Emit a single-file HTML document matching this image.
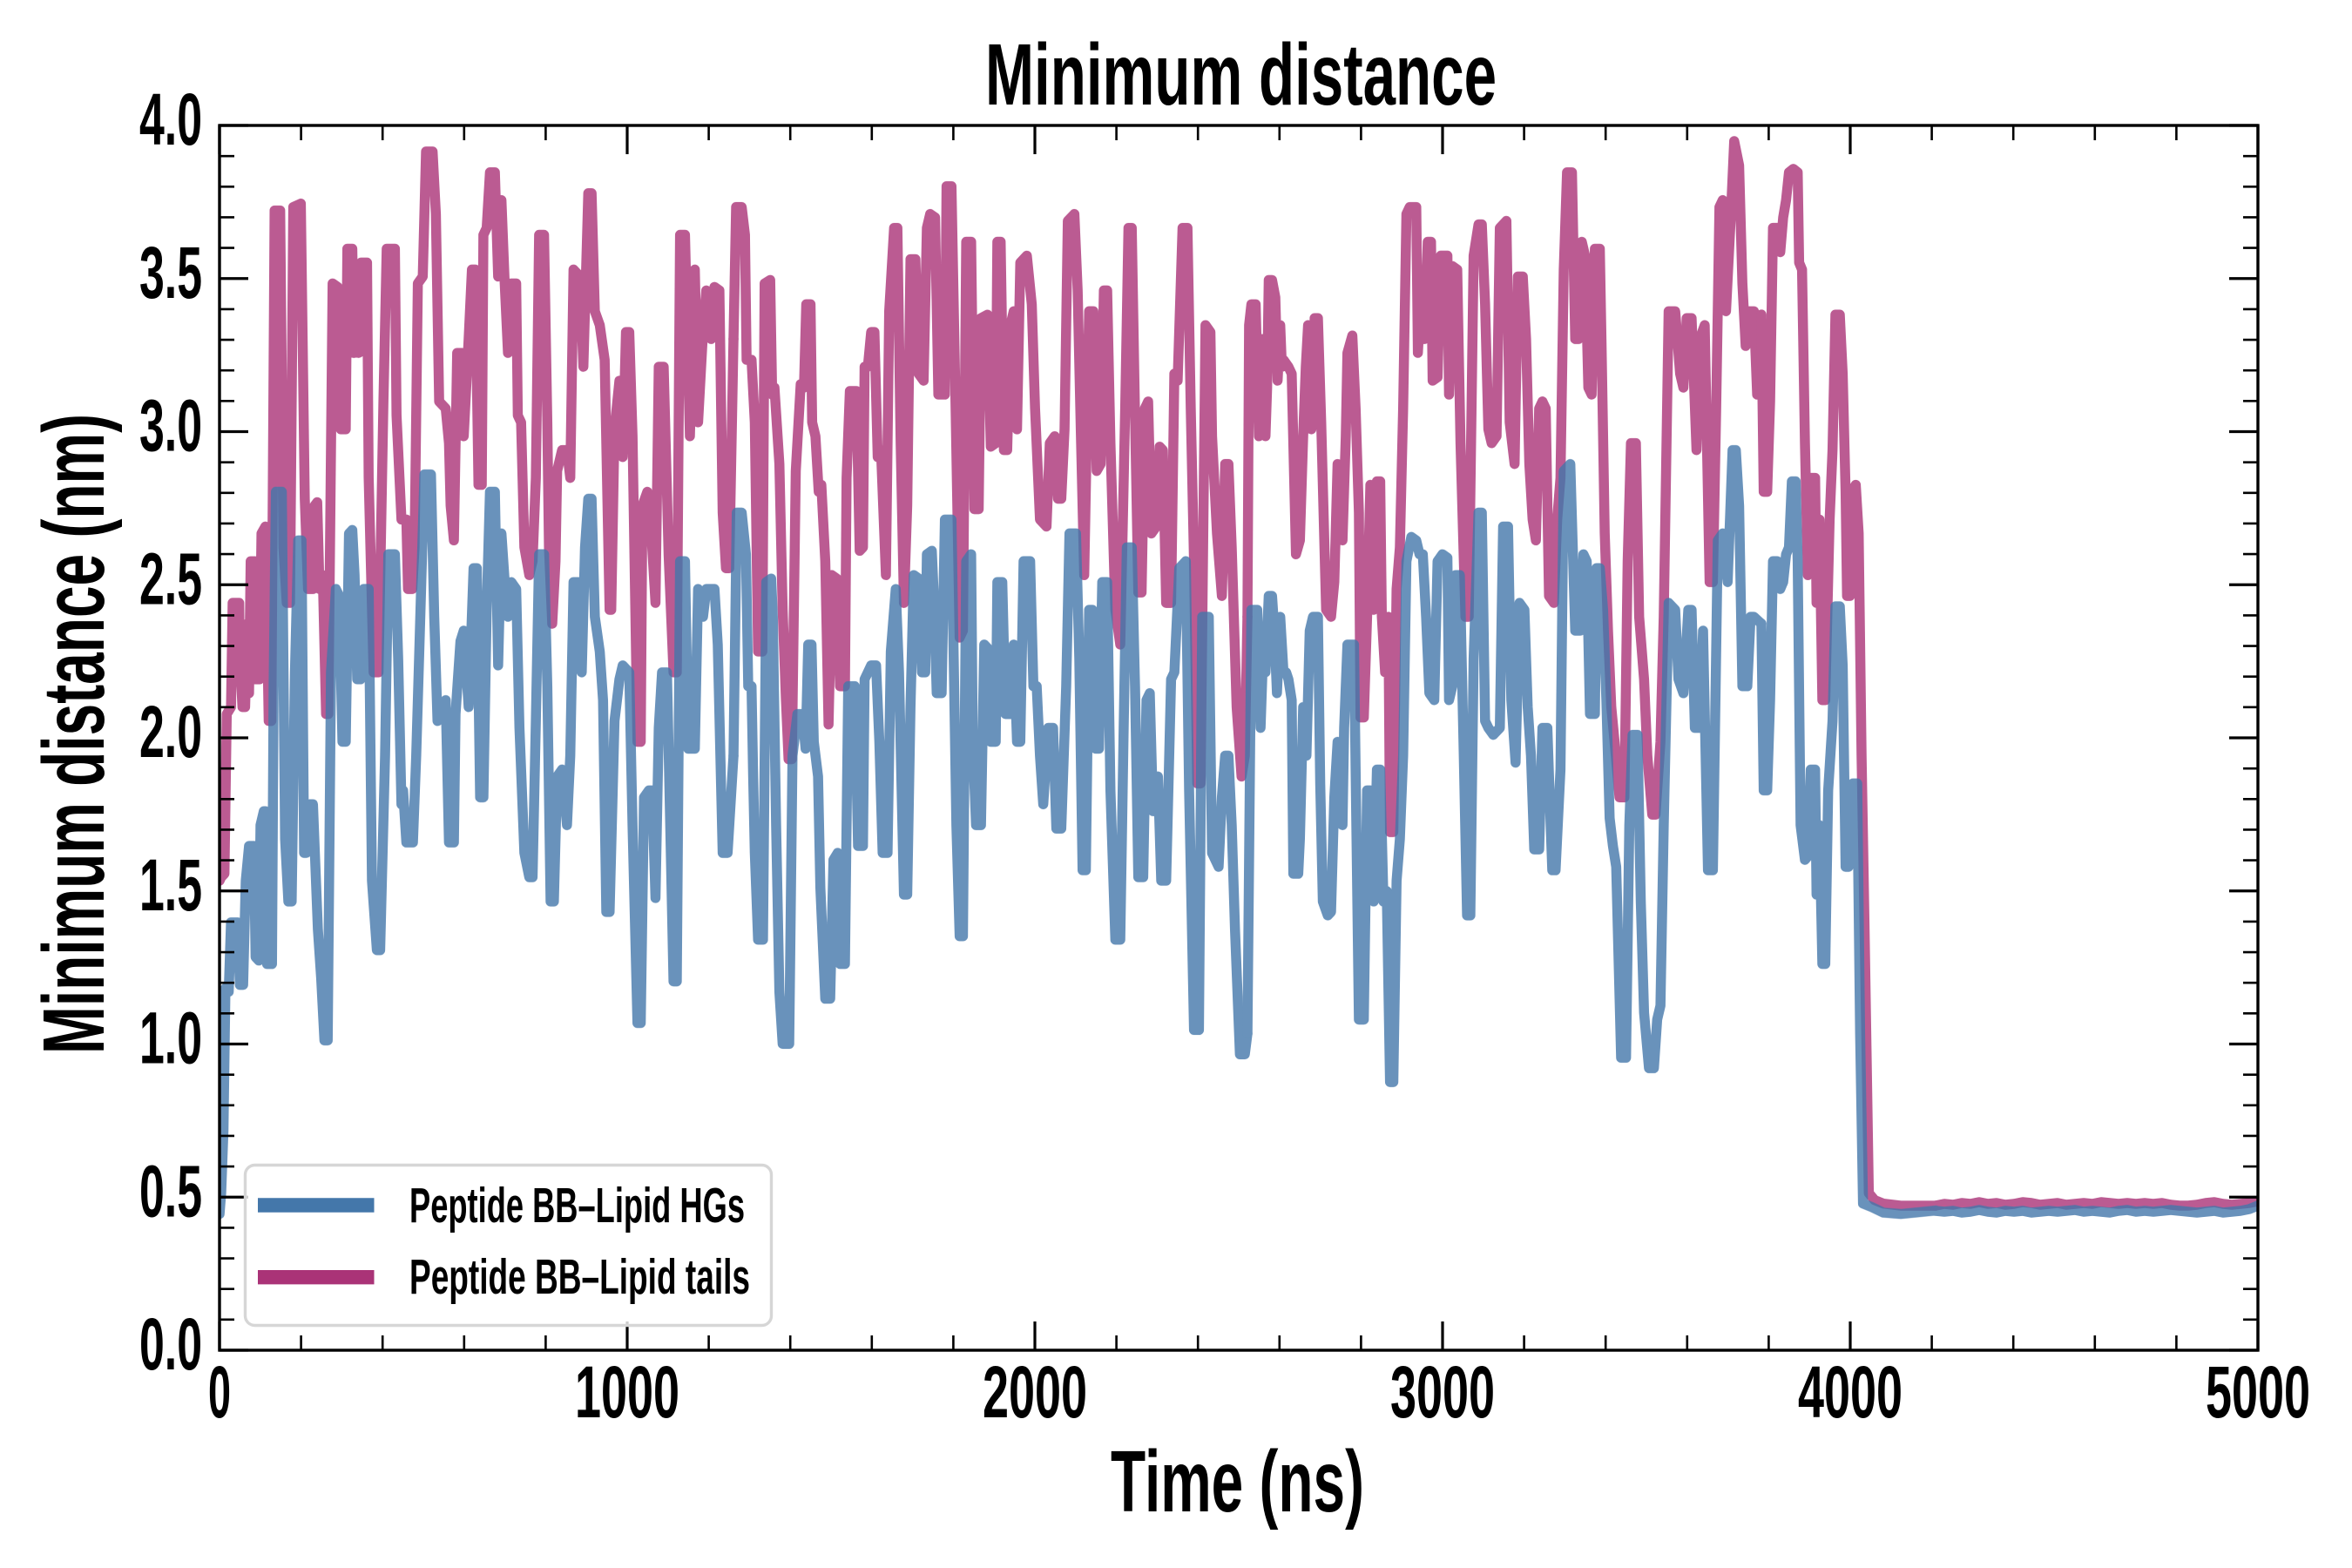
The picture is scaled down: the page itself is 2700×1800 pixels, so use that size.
<!DOCTYPE html>
<html>
<head>
<meta charset="utf-8">
<style>
html,body{margin:0;padding:0;background:#fff;}
body{width:2700px;height:1800px;overflow:hidden;}
svg{display:block;}
text{font-family:"Liberation Sans Narrow","Liberation Sans",sans-serif;font-weight:bold;fill:#000;}
</style>
</head>
<body>
<svg xmlns="http://www.w3.org/2000/svg" width="2700" height="1800" viewBox="0 0 2700 1800">
<rect x="0" y="0" width="2700" height="1800" fill="#fff"/>
<defs>
<clipPath id="ax"><rect x="252" y="144" width="2340" height="1406"/></clipPath>
</defs>

<g clip-path="url(#ax)">
<!-- Pink series: Peptide BB-Lipid tails -->
<g opacity="0.8" fill="none" stroke="#AA3377" stroke-width="11.5" stroke-linejoin="round" stroke-linecap="round">
<g transform="translate(252,150) scale(0.376276,0.797194)">
<polyline vector-effect="non-scaling-stroke" points="0,1080 5,1075 15,1070 22,840 35,830 40,680 60,680 62,760 70,830 78,830 85,710 90,810 95,620 108,620 110,790 122,790 128,580 140,570 150,850 158,850 168,115 185,115 195,600 205,680 215,680 225,110 248,105 260,530 270,660 285,660 290,540 298,535 305,660 315,640 325,840 332,840 345,220 360,225 370,430 385,430 390,170 405,170 410,320 420,280 425,320 432,190 450,190 455,500 470,780 485,780 500,390 510,170 535,170 540,410 545,460 555,560 570,560 575,660 588,660 595,600 605,220 620,210 630,30 650,30 660,120 670,390 690,400 700,450 705,540 715,590 725,320 740,320 745,440 760,300 770,200 780,200 790,510 800,510 805,150 815,140 825,60 840,60 850,210 860,100 870,220 880,320 890,220 905,220 910,410 920,420 930,600 945,640 955,620 965,500 975,150 990,150 1000,420 1005,600 1015,710 1025,620 1030,490 1045,460 1060,460 1070,500 1080,200 1100,210 1110,340 1125,90 1135,90 1145,260 1160,280 1175,330 1190,690 1195,690 1205,430 1220,360 1230,470 1240,290 1250,290 1260,440 1275,880 1285,880 1290,540 1305,520 1315,560 1330,680 1340,340 1355,340 1370,610 1385,780 1395,780 1405,150 1420,150 1435,440 1450,200 1460,420 1475,290 1485,230 1500,300 1510,225 1525,230 1535,550 1545,630 1555,630 1568,300"/>
</g>
<g transform="translate(842,150) scale(0.376276,0.797194)">
<polyline vector-effect="non-scaling-stroke" points="0,300 8,110 25,110 35,150 40,330 55,330 65,420 75,750 88,750 95,220 112,215 118,380 125,370 140,480 150,690 160,820 168,905 178,905 190,490 205,365 215,370 222,250 235,250 240,420 250,440 260,520 268,510 280,620 290,855 300,640 315,645 325,800 340,800 345,500 355,375 375,375 385,605 395,600 400,340 410,340 420,290 430,290 440,470 450,460 465,640 475,260 490,140 500,140 510,450 520,680 530,540 540,185 555,185 565,350 580,360 590,140 600,120 615,125 625,380 645,380 650,80 665,80 675,330 690,730 700,720 710,160 725,160 735,545 748,545 755,270 775,265 785,455 800,450 805,160 815,160 825,460 835,460 845,280 855,260 865,430 875,190 895,180 910,250 920,400 935,560 955,570 965,450 980,440 990,530 1000,530 1010,430 1020,130 1040,120 1050,230 1060,440 1070,640 1085,260 1098,260 1108,490 1120,480 1130,230 1140,230 1150,450 1165,690 1180,740 1195,400 1205,140 1215,140 1225,410 1235,665 1245,665 1255,400 1265,390 1275,580 1290,570 1300,455 1310,460 1320,680 1335,680 1345,350 1355,360 1370,140 1385,140 1395,400 1405,620 1415,940 1425,940 1440,280 1455,290 1460,440 1475,580 1490,670 1500,480 1510,480 1520,600 1535,830 1550,930 1560,900 1568,700"/>
</g>
<g transform="translate(1432,150) scale(0.376276,0.797194)">
<polyline vector-effect="non-scaling-stroke" points="0,700 5,280 12,250 25,250 35,440 45,300 55,440 60,370 65,215 75,215 85,240 92,360 100,280 105,340 110,330 125,340 135,350 148,610 160,590 170,440 178,340 185,280 195,430 205,270 215,270 225,420 240,690 255,700 265,650 275,480 290,590 300,440 305,320 320,295 330,400 340,550 345,845 355,845 365,700 375,510 385,690 395,505 405,505 410,700 420,780 430,700 435,1010 445,1010 455,660 465,600 475,400 485,120 495,110 515,110 520,320 530,230 540,300 550,160 560,160 565,360 580,355 590,180 610,180 615,380 625,195 640,200 650,450 665,700 675,700 690,180 705,135 715,135 725,250 735,430 745,450 760,440 770,140 790,130 800,420 815,480 825,210 840,210 850,300 860,480 870,560 880,590 890,400 900,390 910,400 920,670 935,680 945,560 955,500 965,200 975,60 990,60 1000,300 1010,300 1020,160 1030,180 1040,370 1050,380 1060,170 1075,170 1080,300 1090,580 1100,720 1110,830 1120,880 1135,960 1150,960 1160,620 1170,450 1185,450 1195,700 1210,790 1220,900 1235,985 1245,985 1260,880 1270,700 1285,260 1305,260 1320,350 1330,370 1340,270 1355,270 1370,460 1380,300 1395,280 1410,650 1420,650 1430,400 1440,110 1450,100 1460,260 1475,120 1485,15 1500,50 1510,220 1520,310 1530,260 1545,260 1555,380 1568,265"/>
</g>
<g transform="translate(2022,150) scale(0.333333,0.797194)">
<polyline vector-effect="non-scaling-stroke" points="0,265 8,520 20,520 30,390 40,140 55,140 65,175 75,125 85,100 95,60 110,55 125,60 130,190 140,200 150,450 160,640 170,500 185,500 190,680 200,560 210,820 220,820 235,560 245,460 255,265 270,265 280,350 290,520 295,670 305,670 310,520 325,510 335,580 345,900 355,1140 370,1530 390,1540 420,1545 480,1548 530,1548 600,1548"/>
</g>
<polyline points="2222,1384 2232,1382 2242,1383 2252,1381 2262,1382 2272,1380 2282,1382 2292,1381 2302,1383 2312,1382 2322,1380 2332,1381 2342,1383 2352,1382 2362,1381 2372,1383 2382,1382 2392,1381 2402,1382 2412,1380 2422,1381 2432,1382 2442,1381 2452,1382 2462,1381 2472,1382 2482,1381 2492,1383 2502,1384 2512,1384 2522,1383 2532,1381 2542,1380 2552,1382 2562,1383 2572,1382 2582,1381 2592,1379"/>
</g>

<!-- Blue series: Peptide BB-Lipid HGs -->
<g opacity="0.8" fill="none" stroke="#4477AA" stroke-width="11.5" stroke-linejoin="round" stroke-linecap="round">
<g transform="translate(252,150) scale(0.376276,0.797194)">
<polyline vector-effect="non-scaling-stroke" points="0,1560 5,1530 12,1440 18,1235 28,1240 35,1140 55,1140 62,1230 72,1230 80,1080 90,1030 105,1030 110,1190 120,1195 125,1000 135,980 140,980 145,1200 160,1200 165,800 172,520 190,520 200,1020 210,1110 220,1110 230,780 240,590 250,590 258,1040 265,1040 275,970 285,970 300,1150 310,1220 320,1310 330,1310 340,780 355,660 365,670 375,880 385,880 395,580 405,575 412,640 420,790 430,790 440,660 455,660 465,1080 480,1180 490,1180 505,900 515,610 535,610 545,760 555,970 560,950 570,1025 590,1025 600,900 610,740 625,495 645,495 655,700 665,850 690,820 700,1025 715,1025 720,840 735,735 745,720 760,830 775,630 785,630 795,960 805,960 815,690 825,520 840,520 850,770 860,580 870,650 880,700 890,650 905,660 915,860 930,1040 945,1075 955,1075 965,850 975,610 990,610 1000,800 1010,1110 1020,1110 1030,930 1045,920 1060,1000 1070,900 1080,650 1095,650 1105,780 1115,600 1125,530 1135,530 1145,700 1160,750 1170,820 1180,1125 1190,1125 1205,850 1220,790 1230,770 1250,780 1260,1000 1275,1285 1285,1285 1295,960 1310,950 1320,950 1330,1105 1340,860 1350,780 1365,780 1375,1000 1385,1225 1395,1225 1405,620 1420,620 1430,890 1450,890 1460,660 1475,700 1485,660 1510,660 1520,740 1535,1040 1550,1040 1568,900"/>
</g>
<g transform="translate(842,150) scale(0.376276,0.797194)">
<polyline vector-effect="non-scaling-stroke" points="0,900 10,550 25,550 38,610 45,800 55,800 60,930 65,1040 75,1165 90,1165 100,650 115,645 120,700 130,1000 140,1240 150,1315 170,1315 180,900 195,840 210,840 220,890 228,740 238,740 245,880 258,930 265,1090 280,1250 295,1250 305,1050 318,1040 325,1200 340,1200 350,800 370,800 380,1030 395,1030 400,790 420,770 435,770 445,880 455,1040 470,1040 480,750 495,660 505,780 520,1100 530,1100 540,830 550,640 565,645 575,780 585,780 590,610 605,605 612,680 620,810 635,810 645,560 665,560 680,1000 690,1160 700,1160 710,620 725,610 730,880 740,1000 755,1000 765,740 775,745 785,880 800,880 805,650 820,650 830,840 845,840 855,740 865,880 875,880 885,620 905,620 915,800 925,800 935,900 945,970 960,860 975,860 985,1005 1000,1005 1015,800 1025,580 1045,580 1055,760 1065,1065 1075,1065 1085,690 1095,690 1105,890 1115,890 1125,650 1140,650 1150,950 1165,1165 1180,1165 1190,870 1200,600 1215,600 1225,800 1235,1075 1250,1075 1260,820 1270,810 1280,980 1295,930 1305,1080 1320,1080 1335,790 1345,780 1360,630 1380,620 1390,950 1405,1295 1420,1295 1430,700 1450,700 1460,1040 1480,1060 1490,960 1500,900 1510,900 1520,1000 1530,1150 1545,1330 1560,1330 1568,1300"/>
</g>
<g transform="translate(1432,150) scale(0.376276,0.797194)">
<polyline vector-effect="non-scaling-stroke" points="0,1300 5,1050 12,690 30,690 40,860 50,720 55,780 65,670 75,670 82,720 90,810 100,700 110,780 118,780 125,790 135,820 140,1070 155,1070 160,1020 170,830 180,900 190,720 200,700 215,700 222,940 230,1110 245,1130 255,1125 265,960 275,880 290,1000 295,860 305,740 325,740 340,1280 355,1280 365,950 375,950 385,1110 395,920 405,920 415,1110 425,1095 435,1370 445,1370 455,1080 465,1020 475,900 485,620 500,585 515,590 525,610 535,610 545,700 555,810 570,820 580,620 595,610 610,615 615,820 625,800 635,640 648,640 660,900 670,1130 680,1130 690,760 705,550 715,550 725,850 735,860 750,870 770,860 780,570 795,570 805,820 818,910 830,680 845,690 855,830 865,900 875,1035 890,1035 900,860 915,860 925,1000 930,1065 940,1065 955,920 965,490 985,480 1000,720 1015,720 1025,610 1035,620 1045,840 1060,840 1065,630 1075,630 1085,690 1095,820 1105,990 1115,1030 1125,1060 1140,1335 1155,1335 1165,1000 1175,870 1190,870 1200,1110 1210,1270 1225,1350 1240,1350 1250,1280 1260,1260 1270,1000 1285,680 1305,690 1315,790 1330,810 1345,690 1355,690 1365,860 1380,860 1390,720 1405,1065 1420,1065 1435,590 1450,580 1465,650 1480,460 1490,460 1500,540 1510,800 1525,800 1535,700 1545,700 1568,710"/>
</g>
<g transform="translate(2022,150) scale(0.333333,0.797194)">
<polyline vector-effect="non-scaling-stroke" points="0,710 8,950 20,950 30,820 40,620 55,620 65,660 75,650 85,610 95,600 105,505 118,505 125,620 135,1000 150,1050 160,1045 170,920 185,920 190,1100 200,1000 210,1200 220,1200 230,950 245,850 255,685 270,685 280,770 290,1060 300,1060 315,940 330,940 340,1300 350,1545 380,1550 420,1558 480,1560 600,1555"/>
</g>
<polyline points="2222,1390 2232,1391 2242,1390 2252,1392 2262,1391 2272,1389 2282,1391 2292,1392 2302,1390 2312,1391 2322,1390 2332,1392 2342,1391 2352,1390 2362,1391 2372,1390 2382,1389 2392,1391 2402,1390 2412,1391 2422,1392 2432,1390 2442,1389 2452,1391 2462,1390 2472,1391 2482,1390 2492,1389 2502,1390 2512,1391 2522,1392 2532,1391 2542,1390 2552,1392 2562,1391 2572,1390 2582,1388 2592,1384"/>
</g>
</g>

<!-- Spines -->
<rect x="252" y="144" width="2340" height="1406" fill="none" stroke="#000" stroke-width="3.4"/>

<!-- Major ticks -->
<path fill="none" stroke="#000" stroke-width="3.2" d="
M252,1550v-33 M720,1550v-33 M1188,1550v-33 M1656,1550v-33 M2124,1550v-33 M2592,1550v-33
M252,144v33 M720,144v33 M1188,144v33 M1656,144v33 M2124,144v33 M2592,144v33
M252,1550h33 M252,1374.25h33 M252,1198.5h33 M252,1022.75h33 M252,847h33 M252,671.25h33 M252,495.5h33 M252,319.75h33 M252,144h33
M2592,1550h-33 M2592,1374.25h-33 M2592,1198.5h-33 M2592,1022.75h-33 M2592,847h-33 M2592,671.25h-33 M2592,495.5h-33 M2592,319.75h-33 M2592,144h-33"/>

<!-- Minor ticks -->
<path fill="none" stroke="#000" stroke-width="2.6" d="
M345.6,1550v-17 M439.2,1550v-17 M532.8,1550v-17 M626.4,1550v-17 M813.6,1550v-17 M907.2,1550v-17 M1000.8,1550v-17 M1094.4,1550v-17 M1281.6,1550v-17 M1375.2,1550v-17 M1468.8,1550v-17 M1562.4,1550v-17 M1749.6,1550v-17 M1843.2,1550v-17 M1936.8,1550v-17 M2030.4,1550v-17 M2217.6,1550v-17 M2311.2,1550v-17 M2404.8,1550v-17 M2498.4,1550v-17
M345.6,144v17 M439.2,144v17 M532.8,144v17 M626.4,144v17 M813.6,144v17 M907.2,144v17 M1000.8,144v17 M1094.4,144v17 M1281.6,144v17 M1375.2,144v17 M1468.8,144v17 M1562.4,144v17 M1749.6,144v17 M1843.2,144v17 M1936.8,144v17 M2030.4,144v17 M2217.6,144v17 M2311.2,144v17 M2404.8,144v17 M2498.4,144v17
M252,1514.85h17 M252,1479.7h17 M252,1444.55h17 M252,1409.4h17 M252,1339.1h17 M252,1303.95h17 M252,1268.8h17 M252,1233.65h17 M252,1163.35h17 M252,1128.2h17 M252,1093.05h17 M252,1057.9h17 M252,987.6h17 M252,952.45h17 M252,917.3h17 M252,882.15h17 M252,811.85h17 M252,776.7h17 M252,741.55h17 M252,706.4h17 M252,636.1h17 M252,600.95h17 M252,565.8h17 M252,530.65h17 M252,460.35h17 M252,425.2h17 M252,390.05h17 M252,354.9h17 M252,284.6h17 M252,249.45h17 M252,214.3h17 M252,179.15h17
M2592,1514.85h-17 M2592,1479.7h-17 M2592,1444.55h-17 M2592,1409.4h-17 M2592,1339.1h-17 M2592,1303.95h-17 M2592,1268.8h-17 M2592,1233.65h-17 M2592,1163.35h-17 M2592,1128.2h-17 M2592,1093.05h-17 M2592,1057.9h-17 M2592,987.6h-17 M2592,952.45h-17 M2592,917.3h-17 M2592,882.15h-17 M2592,811.85h-17 M2592,776.7h-17 M2592,741.55h-17 M2592,706.4h-17 M2592,636.1h-17 M2592,600.95h-17 M2592,565.8h-17 M2592,530.65h-17 M2592,460.35h-17 M2592,425.2h-17 M2592,390.05h-17 M2592,354.9h-17 M2592,284.6h-17 M2592,249.45h-17 M2592,214.3h-17 M2592,179.15h-17"/>

<!-- Y tick labels -->
<g font-size="84" text-anchor="end">
<text x="232" y="1572" textLength="72" lengthAdjust="spacingAndGlyphs">0.0</text>
<text x="232" y="1396.25" textLength="72" lengthAdjust="spacingAndGlyphs">0.5</text>
<text x="232" y="1220.5" textLength="72" lengthAdjust="spacingAndGlyphs">1.0</text>
<text x="232" y="1044.75" textLength="72" lengthAdjust="spacingAndGlyphs">1.5</text>
<text x="232" y="869" textLength="72" lengthAdjust="spacingAndGlyphs">2.0</text>
<text x="232" y="693.25" textLength="72" lengthAdjust="spacingAndGlyphs">2.5</text>
<text x="232" y="517.5" textLength="72" lengthAdjust="spacingAndGlyphs">3.0</text>
<text x="232" y="341.75" textLength="72" lengthAdjust="spacingAndGlyphs">3.5</text>
<text x="232" y="166" textLength="72" lengthAdjust="spacingAndGlyphs">4.0</text>
</g>

<!-- X tick labels -->
<g font-size="84" text-anchor="middle">
<text x="252" y="1627" textLength="26" lengthAdjust="spacingAndGlyphs">0</text>
<text x="720" y="1627" textLength="120" lengthAdjust="spacingAndGlyphs">1000</text>
<text x="1188" y="1627" textLength="120" lengthAdjust="spacingAndGlyphs">2000</text>
<text x="1656" y="1627" textLength="120" lengthAdjust="spacingAndGlyphs">3000</text>
<text x="2124" y="1627" textLength="120" lengthAdjust="spacingAndGlyphs">4000</text>
<text x="2592" y="1627" textLength="120" lengthAdjust="spacingAndGlyphs">5000</text>
</g>

<!-- Title and axis labels -->
<text x="1424.5" y="120" font-size="100" text-anchor="middle" textLength="587" lengthAdjust="spacingAndGlyphs">Minimum distance</text>
<text x="1420.5" y="1735" font-size="100" text-anchor="middle" textLength="291" lengthAdjust="spacingAndGlyphs">Time (ns)</text>
<text transform="translate(119,842.5) rotate(-90)" x="0" y="0" font-size="100" text-anchor="middle" textLength="735" lengthAdjust="spacingAndGlyphs">Minimum distance (nm)</text>

<!-- Legend -->
<rect x="281.5" y="1337.5" width="604" height="184" rx="11" ry="11" fill="#fff" fill-opacity="0.8" stroke="#d6d6d6" stroke-width="3.4"/>
<line x1="296" y1="1383.5" x2="429.5" y2="1383.5" stroke="#4477AA" stroke-width="16.4"/>
<line x1="296" y1="1466.2" x2="429.5" y2="1466.2" stroke="#AA3377" stroke-width="16.4"/>
<text x="470" y="1403" font-size="57" textLength="385" lengthAdjust="spacingAndGlyphs">Peptide BB–Lipid HGs</text>
<text x="470" y="1485" font-size="57" textLength="391" lengthAdjust="spacingAndGlyphs">Peptide BB–Lipid tails</text>
</svg>
</body>
</html>
